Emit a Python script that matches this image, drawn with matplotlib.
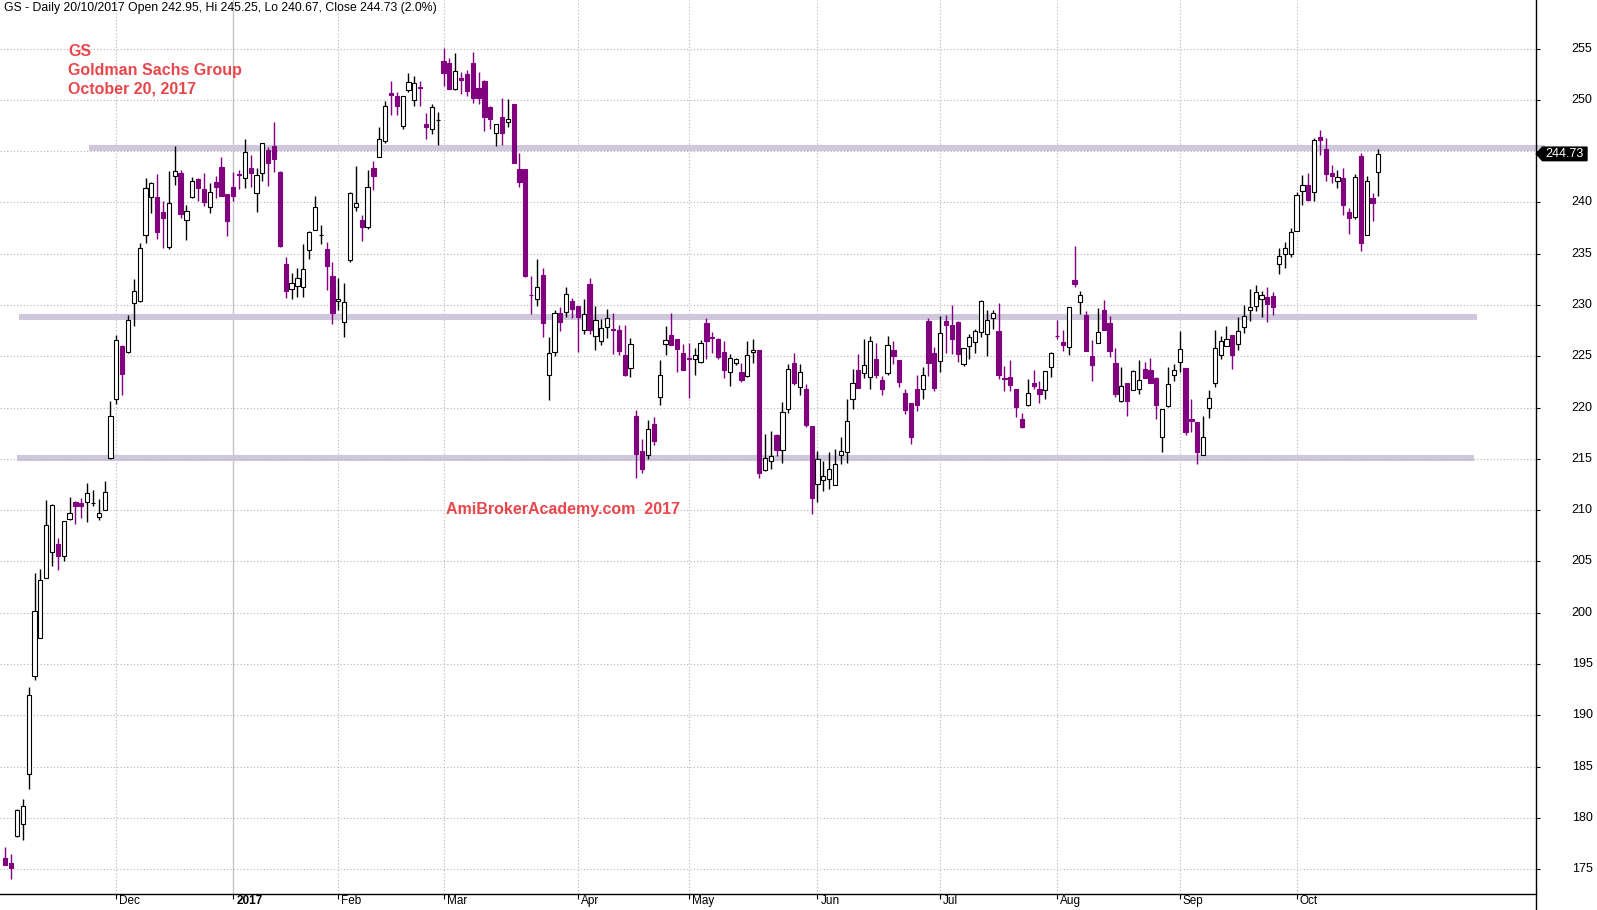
import matplotlib
matplotlib.use("Agg")
import matplotlib.pyplot as plt
import numpy as np
from matplotlib.lines import Line2D
from matplotlib.patches import Polygon
from matplotlib.transforms import offset_copy

plt.rcParams["font.family"] = ["Liberation Sans", "DejaVu Sans"]

# ---- daily OHLC, GS, Nov 2016 .. 20 Oct 2017 ----
opens = [
    176.05, 175.65, 178.24, 179.41, 184.31, 193.82, 197.55, 203.43, 205.88, 206.67,
    205.56, 209.18, 210.78, 210.69, 210.82, 210.7, 209.31, 210.0, 215.1, 220.88,
    226.01, 225.46, 230.2, 230.36, 236.86, 240.56, 240.49, 239.02, 235.69, 242.55,
    242.84, 238.33, 240.56, 242.25, 241.27, 239.51, 241.99, 243.46, 240.82, 241.47,
    242.75, 242.35, 243.37, 240.88, 242.84, 245.13, 245.52, 242.97, 234.02, 231.57,
    231.86, 231.73, 235.39, 237.35, 236.83, 235.49, 232.78, 230.42, 228.3, 234.38,
    239.51, 238.27, 237.61, 243.37, 244.41, 245.98, 250.62, 250.33, 247.45, 250.98,
    250.0, 251.27, 247.68, 247.16, 248.01, 253.76, 253.56, 251.05, 252.16, 252.48,
    253.63, 251.18, 251.86, 249.31, 246.76, 248.33, 247.84, 249.64, 243.27, 243.27,
    231.01, 230.59, 232.88, 223.14, 225.39, 229.22, 229.31, 230.39, 229.9, 227.55,
    232.09, 226.96, 226.47, 227.81, 227.65, 227.58, 225.1, 223.82, 219.22, 215.78,
    215.39, 218.43, 221.08, 226.18, 227.09, 226.7, 225.33, 224.8, 224.77, 224.41,
    228.27, 226.86, 226.7, 225.42, 223.43, 224.31, 223.46, 223.04, 225.39, 225.62,
    213.89, 214.8, 217.29, 215.85, 219.9, 224.35, 222.03, 221.86, 218.24, 212.52,
    212.91, 213.01, 212.42, 215.36, 215.72, 220.85, 223.63, 223.4, 222.97, 224.77,
    222.65, 223.4, 225.59, 224.61, 221.47, 220.49, 221.86, 221.83, 228.43, 225.36,
    224.51, 228.43, 228.04, 228.33, 224.28, 226.05, 226.41, 227.35, 227.16, 228.73,
    227.48, 222.84, 222.97, 221.86, 218.86, 220.26, 222.39, 221.8, 221.67, 223.92,
    227.0, 226.41, 225.95, 232.39, 230.29, 229.05, 225.0, 226.27, 229.54, 228.27,
    224.35, 220.65, 222.39, 221.76, 221.86, 223.73, 223.63, 222.88, 217.12, 220.13,
    223.2, 224.48, 223.82, 218.92, 218.63, 215.36, 219.97, 222.42, 225.16, 226.05,
    227.03, 226.24, 227.88, 229.48, 229.87, 230.56, 230.75, 230.88, 233.99, 234.97,
    234.97, 237.22, 241.08, 241.67, 240.98, 246.37, 245.2, 242.88, 242.06, 242.39,
    239.02, 238.59, 244.54, 236.86, 240.42, 242.95,
]
highs = [
    177.2, 176.47, 180.9, 181.86, 192.78, 203.92, 204.22, 211.01, 210.6, 207.25,
    208.95, 211.27, 210.9, 211.18, 212.68, 212.0, 211.05, 212.88, 220.62, 227.1,
    226.1, 229.05, 232.58, 236.01, 242.39, 241.96, 242.78, 240.1, 243.04, 245.52,
    243.17, 239.71, 242.45, 242.4, 242.88, 241.86, 242.58, 244.44, 240.82, 242.97,
    243.17, 246.18, 244.64, 243.37, 245.8, 245.4, 247.8, 243.07, 234.64, 233.14,
    233.63, 235.92, 237.2, 240.62, 237.78, 236.1, 234.15, 232.68, 232.19, 240.98,
    243.56, 238.76, 243.17, 244.05, 247.35, 249.93, 251.86, 250.72, 250.4, 252.58,
    252.29, 251.8, 248.76, 249.64, 248.86, 255.1, 254.12, 254.6, 252.71, 252.88,
    254.71, 252.68, 251.9, 249.35, 247.65, 250.2, 250.1, 249.64, 244.8, 243.27,
    232.78, 234.44, 233.56, 226.93, 229.5, 229.77, 231.8, 230.65, 229.9, 230.56,
    232.68, 229.9, 228.63, 229.61, 229.22, 228.07, 228.07, 226.76, 219.74, 216.96,
    218.82, 219.05, 224.64, 227.91, 229.25, 226.7, 226.24, 226.27, 225.78, 226.6,
    228.73, 227.39, 226.8, 226.5, 225.2, 224.8, 224.35, 226.5, 226.7, 225.62,
    217.45, 217.68, 217.45, 220.59, 224.25, 225.33, 224.22, 222.32, 218.24, 215.78,
    214.8, 215.65, 215.95, 217.16, 220.88, 223.79, 225.2, 226.73, 226.96, 226.27,
    223.07, 226.96, 226.5, 224.61, 221.86, 220.49, 223.2, 223.99, 228.76, 225.92,
    228.95, 229.02, 230.0, 228.4, 225.85, 227.19, 227.65, 230.52, 229.54, 229.54,
    230.23, 224.05, 224.64, 221.86, 219.51, 222.75, 223.66, 222.58, 223.53, 225.46,
    228.56, 227.58, 229.8, 235.72, 231.41, 229.38, 226.6, 229.74, 230.52, 228.95,
    225.85, 223.95, 222.39, 223.66, 224.64, 224.44, 224.84, 222.97, 219.9, 223.99,
    224.28, 227.48, 223.82, 220.88, 218.63, 219.15, 221.76, 227.55, 227.0, 227.94,
    227.03, 228.82, 230.0, 231.57, 231.96, 231.34, 231.76, 231.24, 235.52, 236.11,
    237.55, 241.01, 242.65, 242.84, 246.27, 247.06, 246.27, 243.63, 243.14, 243.37,
    239.41, 242.78, 244.84, 242.55, 240.92, 245.25,
]
lows = [
    175.46, 174.1, 178.1, 177.84, 182.81, 193.43, 197.5, 203.4, 204.58, 204.18,
    205.07, 209.05, 208.63, 209.28, 208.82, 210.36, 209.0, 210.0, 215.0, 220.39,
    221.21, 225.36, 227.91, 230.3, 236.05, 238.99, 236.41, 235.59, 235.5, 241.73,
    238.5, 236.34, 240.4, 240.16, 239.67, 238.99, 240.46, 240.6, 236.73, 240.16,
    241.3, 241.44, 241.54, 239.08, 242.12, 241.63, 243.0, 235.65, 230.65, 230.56,
    230.75, 230.75, 234.51, 237.3, 235.98, 231.47, 228.14, 229.51, 226.93, 234.18,
    239.15, 236.24, 237.42, 241.21, 244.4, 245.75, 248.5, 248.5, 247.16, 250.78,
    249.41, 249.41, 246.14, 246.63, 245.62, 251.34, 251.05, 251.0, 250.56, 250.36,
    249.67, 249.58, 246.93, 247.19, 245.46, 245.56, 247.32, 243.89, 241.54, 232.7,
    229.08, 229.87, 226.93, 220.75, 225.0, 227.42, 228.8, 228.69, 225.46, 227.22,
    227.22, 225.65, 226.14, 226.8, 225.26, 225.16, 223.07, 223.01, 213.1, 213.6,
    214.97, 216.37, 220.23, 225.13, 226.1, 223.5, 223.66, 220.95, 223.2, 224.3,
    224.77, 225.36, 224.77, 222.91, 222.12, 224.2, 222.48, 223.0, 224.38, 213.1,
    213.8, 213.99, 215.33, 214.61, 219.48, 222.16, 221.21, 218.1, 209.64, 210.78,
    211.9, 212.09, 212.42, 214.48, 214.64, 219.87, 221.9, 222.91, 221.83, 222.84,
    221.24, 223.2, 224.28, 222.03, 219.35, 216.5, 219.64, 220.85, 223.07, 221.63,
    223.46, 225.36, 225.26, 224.44, 224.05, 224.7, 225.36, 226.93, 225.03, 227.71,
    222.78, 221.63, 221.63, 219.08, 218.0, 220.16, 221.8, 220.46, 220.85, 223.0,
    226.73, 225.56, 225.1, 231.76, 229.08, 225.49, 222.61, 226.27, 227.52, 224.97,
    221.08, 220.56, 219.18, 221.76, 221.37, 222.91, 222.42, 218.86, 215.69, 220.03,
    222.58, 223.46, 217.29, 217.58, 214.54, 215.36, 218.95, 221.99, 224.74, 226.05,
    223.76, 225.59, 227.29, 228.46, 229.44, 228.86, 228.37, 229.02, 233.01, 233.59,
    234.67, 237.22, 239.77, 240.16, 240.16, 244.67, 242.12, 241.86, 241.44, 238.79,
    236.9, 238.4, 235.26, 236.86, 238.2, 240.67,
]
closes = [
    175.46, 175.13, 180.78, 181.18, 191.96, 200.2, 203.24, 208.53, 210.49, 205.56,
    208.92, 209.71, 210.36, 210.36, 211.67, 210.7, 209.71, 211.76, 219.22, 226.57,
    223.3, 228.53, 231.37, 235.59, 241.44, 241.86, 237.12, 238.5, 239.9, 243.04,
    238.89, 239.12, 242.06, 241.44, 240.07, 240.98, 241.54, 240.65, 238.2, 240.65,
    242.7, 244.9, 242.91, 242.65, 245.78, 243.89, 244.28, 235.75, 231.34, 232.16,
    232.65, 233.53, 237.16, 239.51, 236.83, 233.79, 229.18, 230.62, 230.29, 240.88,
    239.9, 237.61, 241.47, 242.61, 246.18, 249.41, 250.46, 249.38, 250.39, 251.76,
    251.67, 251.14, 247.32, 249.31, 248.01, 252.61, 251.05, 252.84, 251.96, 250.85,
    250.16, 250.16, 248.3, 248.1, 247.65, 246.73, 248.14, 243.89, 242.03, 232.78,
    231.0, 231.76, 228.2, 225.29, 229.22, 228.3, 231.08, 229.58, 228.79, 229.12,
    227.55, 228.53, 227.78, 228.76, 227.6, 225.56, 223.2, 226.18, 215.46, 213.99,
    217.94, 216.73, 223.14, 226.57, 226.11, 225.72, 223.66, 224.75, 225.1, 226.27,
    226.54, 226.82, 224.97, 223.69, 224.8, 224.7, 222.68, 225.1, 225.59, 213.59,
    215.1, 215.29, 215.85, 219.61, 223.73, 222.42, 223.5, 218.33, 211.21, 214.97,
    213.3, 213.99, 214.51, 215.75, 218.69, 222.42, 221.9, 224.18, 226.5, 223.2,
    221.83, 226.14, 225.03, 222.48, 219.74, 217.09, 220.26, 223.2, 224.35, 221.9,
    227.32, 228.1, 226.7, 225.23, 225.85, 226.93, 227.42, 230.42, 228.53, 229.22,
    223.2, 222.8, 222.22, 220.07, 218.1, 221.47, 222.12, 221.34, 223.53, 225.29,
    226.95, 226.14, 229.8, 232.03, 231.0, 225.49, 224.12, 227.35, 227.52, 225.56,
    221.34, 222.06, 220.65, 223.53, 222.65, 222.91, 222.42, 220.29, 219.9, 222.32,
    223.69, 225.75, 217.58, 218.66, 215.72, 217.16, 220.98, 225.85, 226.47, 226.73,
    225.13, 227.42, 228.89, 229.77, 231.24, 230.95, 230.13, 229.84, 234.74, 235.52,
    237.16, 240.69, 241.67, 240.26, 246.08, 246.05, 242.81, 242.61, 242.45, 239.77,
    238.5, 242.45, 236.08, 242.06, 239.97, 244.73,
]

# bar index where each month starts, and its label
month_idx = [19, 39, 57, 75, 98, 117, 139, 160, 180, 201, 221]
month_labels = ["Dec", "2017", "Feb", "Mar", "Apr", "May", "Jun", "Jul", "Aug", "Sep", "Oct"]

# price axis labels (245 sits under the last-price tag, so it is not shown)
price_ticks = list(range(175, 256, 5))
hidden_ticks = [245]

# hand-drawn support / resistance levels: (price, first bar, last bar)
levels = [245.3, 228.8, 215.1]
level_spans = [(14.3, 263.5), (2.4, 251.9), (2.05, 251.4)]

last_close = closes[-1]

PURPLE = "#800080"
LAVENDER = "#cfc8dd"
RED = "#e8474c"

W, H = 1597, 910
fig = plt.figure(figsize=(W / 100, H / 100), dpi=100)
ax_right = 1536.3 / W
ax_bot = (H - 894.3) / H
ax = fig.add_axes([0, ax_bot, ax_right, 1 - ax_bot])

o = np.array(opens)
h = np.array(highs)
l = np.array(lows)
c = np.array(closes)
x = np.arange(len(o))
up = c >= o

# grid
ax.set_yticks(price_ticks)
ax.grid(axis="y", ls=(0, (1, 2)), color="#b4b4b4", lw=0.8, zorder=0)
for i, lab in zip(month_idx, month_labels):
    if lab == "2017":
        ax.axvline(i, color="#c4c4c4", lw=1.0, zorder=0)
    else:
        ax.axvline(i, color="#b4b4b4", lw=0.8, ls=(0, (1, 2)), zorder=0)

# support / resistance bands
for lvl, (x0, x1) in zip(levels, level_spans):
    ax.plot([x0, x1], [lvl, lvl], color=LAVENDER, lw=4.4, solid_capstyle="butt",
            zorder=1, clip_on=False)

# candles
wick_cols = np.where(up, "black", PURPLE)
ax.vlines(x, l, h, colors=wick_cols, lw=1.0, zorder=2)
body_lo = np.minimum(o, c)
body_h = np.abs(c - o)
face = np.where(up, "white", PURPLE)
edge = np.where(up, "black", PURPLE)
ax.bar(x, body_h, bottom=body_lo, width=0.72, color=face, edgecolor=edge,
       linewidth=0.8, zorder=3)

ax.set_xlim(-0.907, 262.03)
ax.set_ylim(172.56, 259.73)

# axes cosmetics
for s in ("left", "top", "right"):
    ax.spines[s].set_visible(False)
ax.spines["bottom"].set_color("black")
ax.spines["bottom"].set_linewidth(1.0)
fig.add_artist(Line2D([ax_right, ax_right], [0, 1], transform=fig.transFigure,
                      color="black", lw=1.0))
ax.yaxis.tick_right()
ax.tick_params(axis="y", direction="out", length=2.9, width=0.8, colors="black",
               labelright=False)
ytr = ax.get_yaxis_transform()
ylab_tr = offset_copy(ytr, fig=fig, x=35.4, y=0, units="dots")
for v in price_ticks:
    if v in hidden_ticks:
        continue
    ax.text(1.0, v, str(v), transform=ylab_tr, ha="left", va="center", fontsize=9,
            color="black", clip_on=False)

ax.set_xticks(month_idx)
ax.set_xticklabels([])
ax.tick_params(axis="x", direction="out", length=3.5, width=0.8)

lab_tr = offset_copy(ax.get_xaxis_transform(), fig=fig, x=3, y=-7, units="dots")
for i, lab in zip(month_idx, month_labels):
    ax.text(i, 0, lab, transform=lab_tr, ha="left", va="center", fontsize=8.5,
            fontweight="bold" if lab == "2017" else "normal")

# last price tag
tag = Polygon([[1.0, last_close], [1.004, last_close + 0.66], [1.033, last_close + 0.66],
               [1.033, last_close - 0.66], [1.004, last_close - 0.66]],
              closed=True, transform=ytr, facecolor="black", edgecolor="black",
              clip_on=False, zorder=5)
ax.add_patch(tag)
ax.text(1.0185, last_close, f"{last_close:.2f}", transform=ytr, color="white",
        ha="center", va="center", fontsize=9, zorder=6)

# header and annotations
fig.text(4 / W, 1 - 8 / H,
         "GS - Daily 20/10/2017 Open 242.95, Hi 245.25, Lo 240.67, Close 244.73 (2.0%)",
         ha="left", va="center", fontsize=8.8, color="black")
for txt, yy in [("GS", 51), ("Goldman Sachs Group", 70.5), ("October 20, 2017", 89.5)]:
    fig.text(68 / W, 1 - yy / H, txt, ha="left", va="center", fontsize=11.5,
             fontweight="bold", color=RED)
fig.text(446 / W, 1 - 509.5 / H, "AmiBrokerAcademy.com  2017", ha="left", va="center",
         fontsize=11.5, fontweight="bold", color=RED)

fig.savefig("out.png", dpi=100)
